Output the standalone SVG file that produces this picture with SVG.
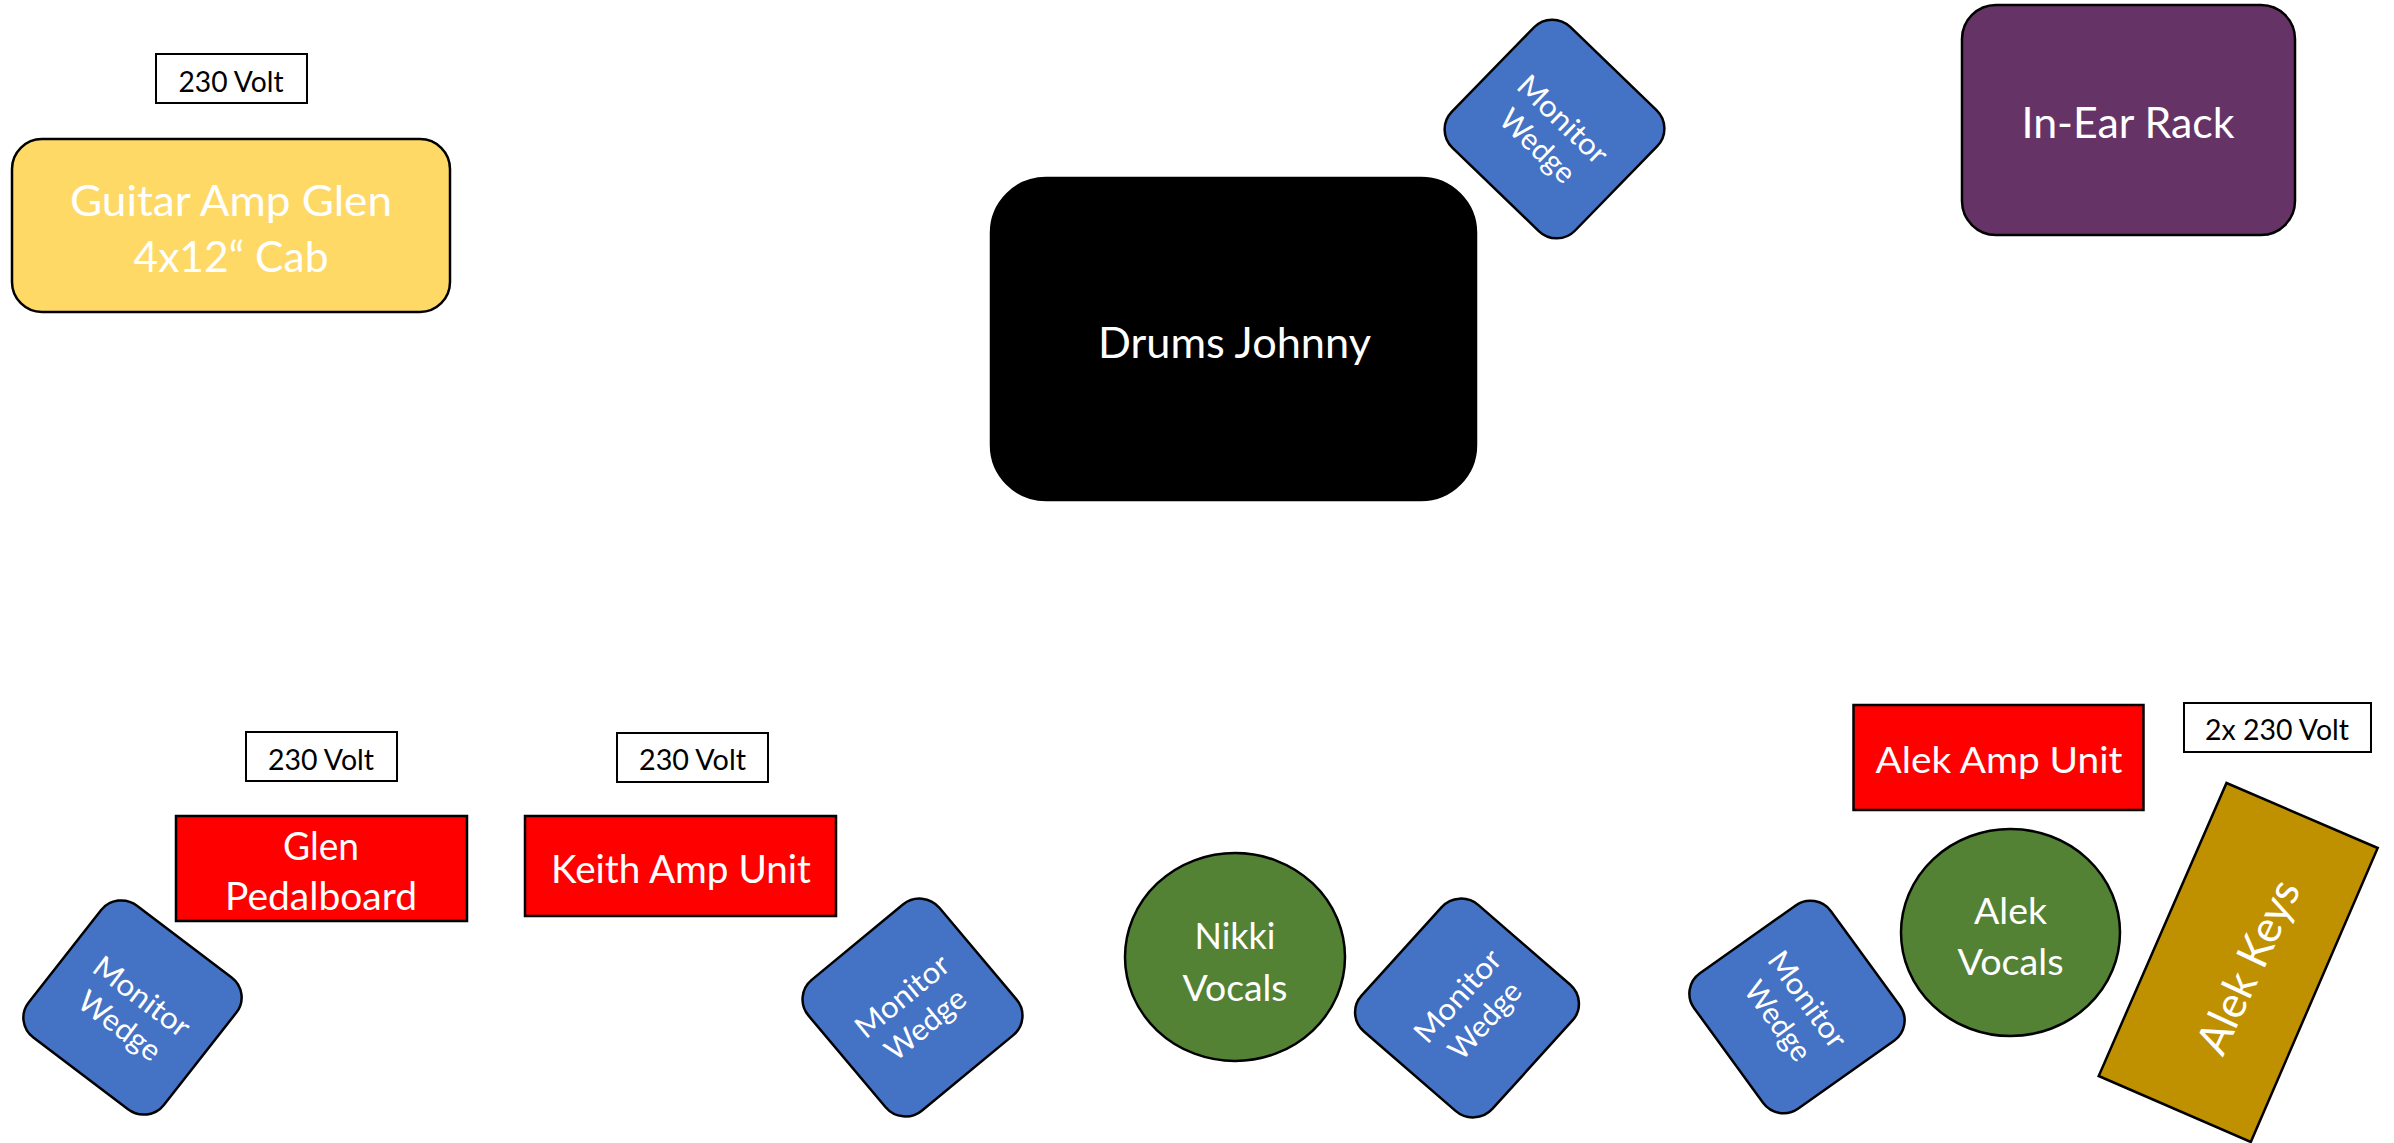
<svg xmlns="http://www.w3.org/2000/svg" xmlns:xlink="http://www.w3.org/1999/xlink" width="2394" height="1143" viewBox="0 0 2394 1143">
<style>
text{font-family:Lato,"Liberation Sans",sans-serif;text-anchor:middle}
.w{fill:#fff}
.k{fill:#000}
.sh{stroke:#000;stroke-width:2.5}
.pw{fill:#fff;stroke:#000;stroke-width:2}
.red{fill:#ff0000}
.blue{fill:#4472c4;stroke:#000;stroke-width:2.5}
.green{fill:#548235}
</style>
<defs>
<rect id="wedge" x="-50" y="-50" width="100" height="100" rx="15" ry="15" vector-effect="non-scaling-stroke"/>
</defs>
<rect width="2394" height="1143" fill="#fff"/>
<g id="connectors"></g>

<g id="power1"><rect class="pw" x="156" y="54" width="151" height="49"/><text class="k" x="231" y="92" font-size="29" textLength="105" lengthAdjust="spacingAndGlyphs">230 Volt</text></g>
<g id="guitar-amp"><rect class="sh" fill="#ffd966" x="12" y="139" width="438" height="173" rx="30"/>
<text class="w" x="231" y="216" font-size="42" textLength="322" lengthAdjust="spacingAndGlyphs">Guitar Amp Glen</text>
<text class="w" x="231" y="272" font-size="42" textLength="195" lengthAdjust="spacingAndGlyphs">4x12“ Cab</text></g>

<g id="drums"><rect class="sh" fill="#000" x="991" y="178" width="485" height="322" rx="55" ry="55"/>
<text class="w" x="1234.5" y="358" font-size="43" textLength="273" lengthAdjust="spacingAndGlyphs">Drums Johnny</text></g>

<g id="wedge-drums"><use xlink:href="#wedge" class="blue" transform="matrix(1.232 1.188 -1.177 1.210 1554.5 129)"/>
<g transform="translate(1550.5 132.5) rotate(44)"><text class="w" y="-7.5" font-size="30" textLength="113" lengthAdjust="spacingAndGlyphs">Monitor</text><text class="w" y="29" font-size="30" textLength="92" lengthAdjust="spacingAndGlyphs">Wedge</text></g></g>

<g id="in-ear-rack"><rect class="sh" fill="#663366" x="1962" y="5" width="333" height="230" rx="34"/>
<text class="w" x="2128" y="138" font-size="42" textLength="213" lengthAdjust="spacingAndGlyphs">In-Ear Rack</text></g>

<g id="power2"><rect class="pw" x="246" y="732" width="151" height="49"/><text class="k" x="321" y="770" font-size="29" textLength="106" lengthAdjust="spacingAndGlyphs">230 Volt</text></g>
<g id="glen-pedalboard"><rect class="sh red" x="176" y="816" width="291" height="105"/>
<text class="w" x="321" y="860" font-size="38" textLength="76" lengthAdjust="spacingAndGlyphs">Glen</text>
<text class="w" x="321" y="910" font-size="38" textLength="192" lengthAdjust="spacingAndGlyphs">Pedalboard</text></g>

<g id="wedge-glen"><use xlink:href="#wedge" class="blue" transform="matrix(1.352 1.025 -1.036 1.319 132.5 1007.5)"/>
<g transform="translate(131 1011) rotate(37)"><text class="w" y="-7.5" font-size="30" textLength="113" lengthAdjust="spacingAndGlyphs">Monitor</text><text class="w" y="29" font-size="30" textLength="95" lengthAdjust="spacingAndGlyphs">Wedge</text></g></g>

<g id="power3"><rect class="pw" x="617" y="733" width="151" height="49"/><text class="k" x="692.5" y="770" font-size="29" textLength="107" lengthAdjust="spacingAndGlyphs">230 Volt</text></g>
<g id="keith-amp"><rect class="sh red" x="525" y="816" width="311" height="100"/>
<text class="w" x="681" y="883" font-size="38" textLength="260" lengthAdjust="spacingAndGlyphs">Keith Amp Unit</text></g>

<g id="wedge-keith"><use xlink:href="#wedge" class="blue" transform="matrix(1.308 -1.079 1.101 1.308 912.5 1007.5)"/>
<g transform="translate(913.5 1010) rotate(-39.5)"><text class="w" y="-7.5" font-size="30" textLength="112" lengthAdjust="spacingAndGlyphs">Monitor</text><text class="w" y="29" font-size="30" textLength="95" lengthAdjust="spacingAndGlyphs">Wedge</text></g></g>

<g id="nikki-vocals"><ellipse class="sh green" cx="1235" cy="957" rx="110" ry="104"/>
<text class="w" x="1235" y="949" font-size="37" textLength="81" lengthAdjust="spacingAndGlyphs">Nikki</text>
<text class="w" x="1235" y="1001" font-size="37" textLength="105" lengthAdjust="spacingAndGlyphs">Vocals</text></g>

<g id="wedge-nikki"><use xlink:href="#wedge" class="blue" transform="matrix(1.145 -1.264 1.308 1.134 1467 1008)"/>
<g transform="translate(1471 1008) rotate(-48)"><text class="w" y="-7.5" font-size="30" textLength="114" lengthAdjust="spacingAndGlyphs">Monitor</text><text class="w" y="29" font-size="30" textLength="93" lengthAdjust="spacingAndGlyphs">Wedge</text></g></g>

<g id="alek-amp"><rect class="sh red" x="1853.5" y="705" width="290" height="105"/>
<text class="w" x="1999" y="773" font-size="37" textLength="247" lengthAdjust="spacingAndGlyphs">Alek Amp Unit</text></g>
<g id="power4"><rect class="pw" x="2184" y="703" width="187" height="49"/><text class="k" x="2277" y="740" font-size="29" textLength="144" lengthAdjust="spacingAndGlyphs">2x 230 Volt</text></g>

<g id="wedge-alek"><use xlink:href="#wedge" class="blue" transform="matrix(0.984 1.352 -1.368 0.970 1797 1007)"/>
<g transform="translate(1793 1010) rotate(54)"><text class="w" y="-7.5" font-size="30" textLength="112" lengthAdjust="spacingAndGlyphs">Monitor</text><text class="w" y="29" font-size="30" textLength="91" lengthAdjust="spacingAndGlyphs">Wedge</text></g></g>

<g id="alek-vocals"><ellipse class="sh green" cx="2010.5" cy="932.5" rx="109.5" ry="103.5"/>
<text class="w" x="2010.5" y="924" font-size="36" textLength="73" lengthAdjust="spacingAndGlyphs">Alek</text>
<text class="w" x="2010.5" y="975" font-size="36" textLength="106" lengthAdjust="spacingAndGlyphs">Vocals</text></g>

<g id="alek-keys"><polygon class="sh" fill="#bf9000" points="2226.5,783 2377.7,848 2250.8,1142 2098.7,1076"/>
<text class="w" transform="translate(2247.5 966.5) rotate(-65)" y="16" font-size="44" textLength="186" lengthAdjust="spacingAndGlyphs">Alek Keys</text></g>
</svg>
